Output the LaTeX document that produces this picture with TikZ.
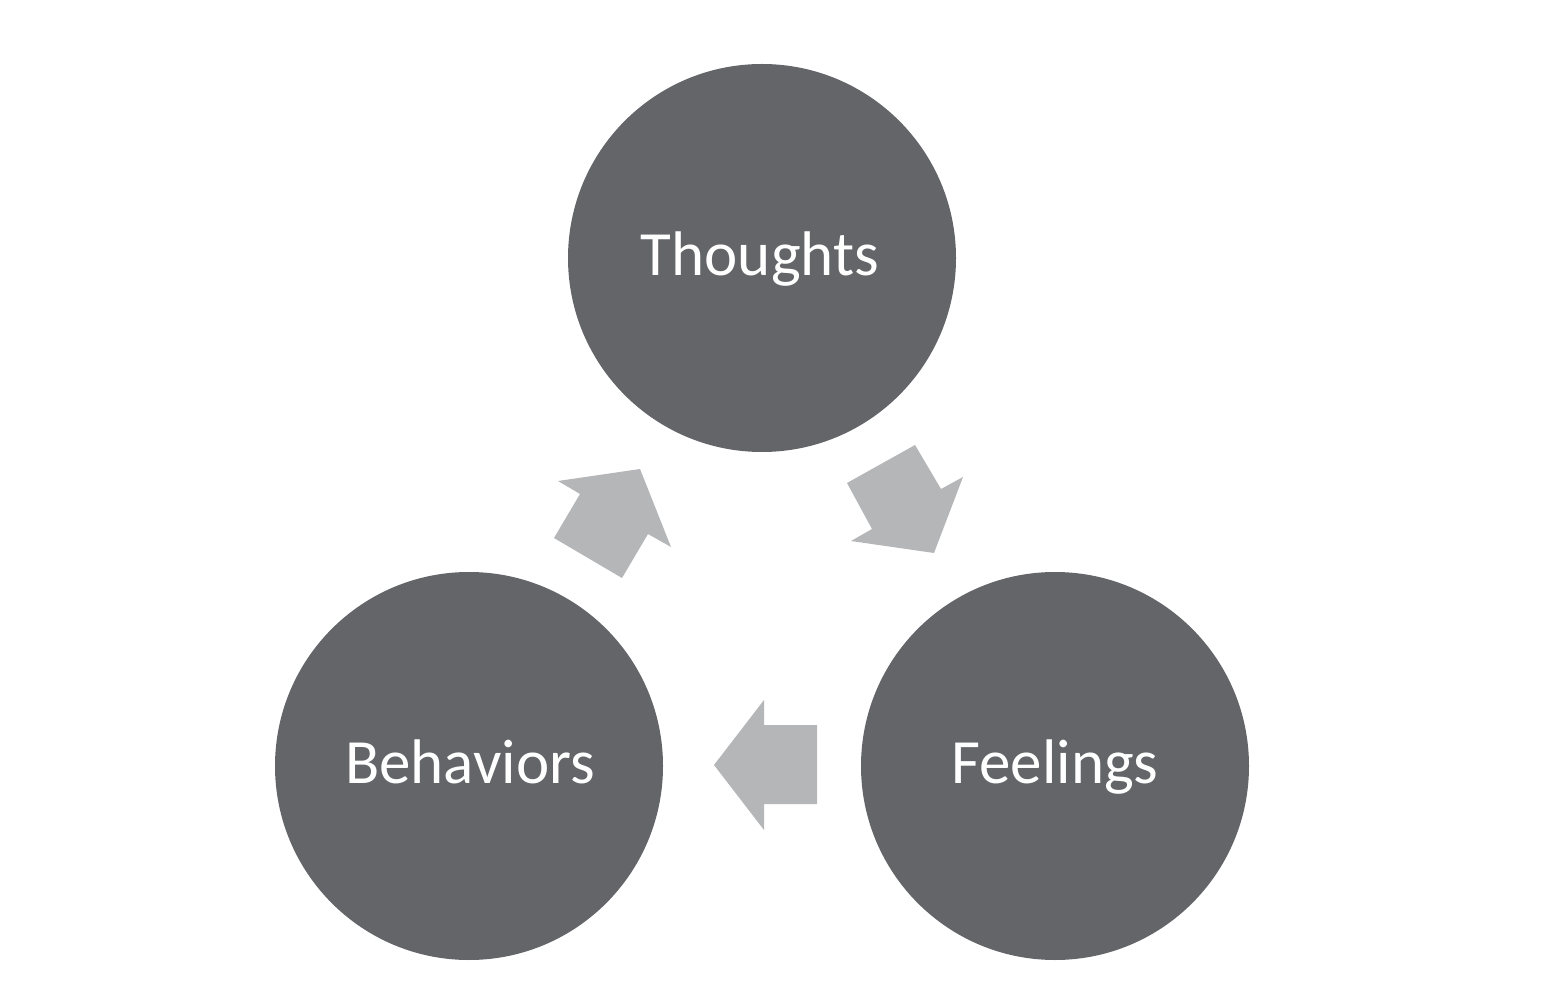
\documentclass[tikz,border=0pt]{standalone}
\usepackage{fontspec}
\setmainfont{Carlito}
\definecolor{circgray}{HTML}{646569}
\definecolor{arrgray}{HTML}{B5B6B8}
\begin{document}
\begin{tikzpicture}[x=0.5pt,y=-0.5pt,
  bubble/.style={circle,fill=circgray,draw=none,minimum size=194pt,inner sep=0pt},
  lbl/.style={text=white,font=\fontsize{31.5}{36}\selectfont,anchor=base},
  blockarrow/.style={fill=arrgray,draw=none}]
\useasboundingbox (0,0) rectangle (1558,988);
\node[bubble] (thoughts) at (762,258) {};
\node[bubble] (behaviors) at (469,766) {};
\node[bubble] (feelings) at (1055,766) {};
\node[lbl] (tl) at (760,276) {Thoughts};
\node[lbl] (bl) at (470,783) {Behaviors};
\node[lbl] (fl) at (1055,783) {Feelings};
% Thoughts -> Feelings
\fill[blockarrow] (847,483) -- (915,445) -- (941,489) -- (963,477) -- (934,553) -- (851,541) -- (872,529) -- cycle;
% Feelings -> Behaviors
\fill[blockarrow] (714,765) -- (764,700) -- (764,725) -- (817,725) -- (817,804) -- (764,804) -- (764,830) -- cycle;
% Behaviors -> Thoughts
\fill[blockarrow] (558,481) -- (640,469) -- (671,547) -- (648,534) -- (622,578) -- (554,538) -- (580,494) -- cycle;
\end{tikzpicture}
\end{document}
